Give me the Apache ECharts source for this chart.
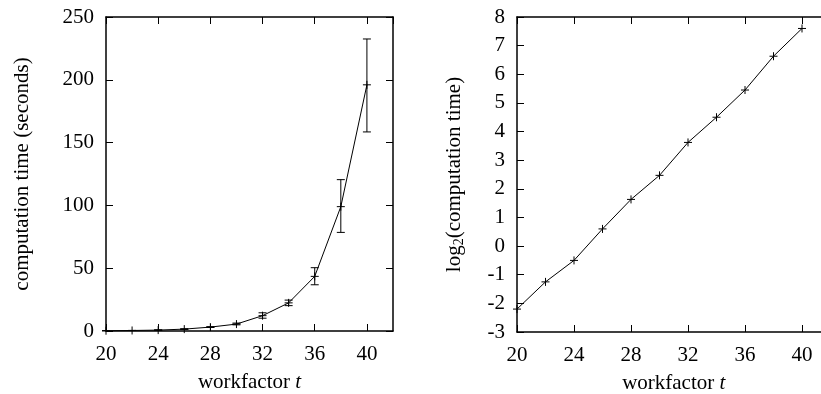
<!DOCTYPE html>
<html>
<head>
<meta charset="utf-8">
<script src="https://cdn.jsdelivr.net/npm/echarts@6/dist/echarts.min.js"></script>
<style>
  html, body { margin: 0; padding: 0; background: #fff; }
  #main { width: 821px; height: 394px; }
</style>
</head>
<body>
<div id="main"></div>
<script>
// workfactor values
const workfactor = [20, 22, 24, 26, 28, 30, 32, 34, 36, 38, 40]
// mean computation time (seconds) and error bar ends
const timeMean = [0.22, 0.42, 0.71, 1.5, 3.1, 5.5, 12.2, 22.4, 43.5, 99, 196]
const timeLow = [0.2, 0.38, 0.62, 1.3, 2.8, 4.9, 10.2, 20.2, 36.8, 78.5, 158.5]
const timeHigh = [0.25, 0.46, 0.8, 1.7, 3.4, 6.3, 14.5, 24.6, 50.4, 120.5, 232.5]
// log2 of computation time
const logTime = [-2.2, -1.25, -0.5, 0.6, 1.63, 2.47, 3.62, 4.5, 5.45, 6.63, 7.6]

const leftTicks = { x: [20, 42, 4], y: [0, 250, 50] }
const rightTicks = { x: [20, 42, 4], y: [-3, 8, 1] }

const font = 'Liberation Serif'
const black = '#000'

const chart = echarts.init(document.getElementById('main'))

const xy = (xs, ys) => xs.map((x, i) => [x, ys[i]])

const axisX = (grid, pos, min, max, interval, showLabel) => ({
  type: 'value', gridIndex: grid, position: pos, min, max, interval,
  axisLine: { show: true, onZero: false, lineStyle: { color: black, width: 1.5 } },
  splitLine: { show: false },
  axisTick: { show: true, inside: true, length: 7, lineStyle: { color: black, width: 1 } },
  axisLabel: {
    show: showLabel, color: black, fontFamily: font, fontSize: 21, margin: 13,
    showMaxLabel: false,
  },
})

const axisY = (grid, pos, min, max, interval, showLabel) => ({
  type: 'value', gridIndex: grid, position: pos, min, max, interval,
  axisLine: { show: true, onZero: false, lineStyle: { color: black, width: 1.5 } },
  splitLine: { show: false },
  axisTick: { show: true, inside: true, length: 7, lineStyle: { color: black, width: 1 } },
  axisLabel: { show: showLabel, color: black, fontFamily: font, fontSize: 21, margin: 12 },
})

const xName = {
  name: '{a|workfactor }{i|t}',
  nameLocation: 'middle',
  nameGap: 41,
  nameTextStyle: {
    rich: {
      a: { fontFamily: font, fontSize: 21, color: black },
      i: { fontFamily: font, fontSize: 21, color: black, fontStyle: 'italic' },
    },
  },
}

const plusAndBars = (withBars) => (params, api) => {
  const x = api.value(0)
  const p = api.coord([x, api.value(1)])
  const s = 4
  const style = { stroke: black, lineWidth: 1 }
  const children = [
    { type: 'line', shape: { x1: p[0] - s, y1: p[1], x2: p[0] + s, y2: p[1] }, style },
    { type: 'line', shape: { x1: p[0], y1: p[1] - s, x2: p[0], y2: p[1] + s }, style },
  ]
  if (withBars) {
    const lo = api.coord([x, api.value(2)])
    const hi = api.coord([x, api.value(3)])
    children.push(
      { type: 'line', shape: { x1: lo[0], y1: lo[1], x2: hi[0], y2: hi[1] }, style },
      { type: 'line', shape: { x1: lo[0] - s, y1: lo[1], x2: lo[0] + s, y2: lo[1] }, style },
      { type: 'line', shape: { x1: hi[0] - s, y1: hi[1], x2: hi[0] + s, y2: hi[1] }, style },
    )
  }
  return { type: 'group', children }
}

chart.setOption({
  backgroundColor: '#fff',
  animation: false,
  grid: [
    { left: 106, top: 17, width: 287, bottom: 63, containLabel: false, outerBoundsMode: 'none' },
    { left: 517, top: 17, width: 313.5, bottom: 62, containLabel: false, outerBoundsMode: 'none' },
  ],
  xAxis: [
    Object.assign(axisX(0, 'bottom', leftTicks.x[0], leftTicks.x[1], leftTicks.x[2], true), xName),
    axisX(0, 'top', leftTicks.x[0], leftTicks.x[1], leftTicks.x[2], false),
    Object.assign(axisX(1, 'bottom', rightTicks.x[0], rightTicks.x[1], rightTicks.x[2], true), xName),
    axisX(1, 'top', rightTicks.x[0], rightTicks.x[1], rightTicks.x[2], false),
  ],
  yAxis: [
    Object.assign(axisY(0, 'left', leftTicks.y[0], leftTicks.y[1], leftTicks.y[2], true), {
      name: 'computation time (seconds)',
      nameLocation: 'middle',
      nameGap: 73,
      nameRotate: 90,
      nameTextStyle: { fontFamily: font, fontSize: 21, color: black },
    }),
    axisY(0, 'right', leftTicks.y[0], leftTicks.y[1], leftTicks.y[2], false),
    Object.assign(axisY(1, 'left', rightTicks.y[0], rightTicks.y[1], rightTicks.y[2], true), {
      name: '{a|log}{s|2}{a|(computation time)}',
      nameLocation: 'middle',
      nameGap: 51,
      nameRotate: 90,
      nameTextStyle: {
        rich: {
          a: { fontFamily: font, fontSize: 21, color: black },
          s: { fontFamily: font, fontSize: 14, color: black, verticalAlign: 'bottom', padding: [9, 0, 0, 0] },
        },
      },
    }),
    axisY(1, 'right', rightTicks.y[0], rightTicks.y[1], rightTicks.y[2], false),
  ],
  series: [
    {
      type: 'line', xAxisIndex: 0, yAxisIndex: 0,
      data: xy(workfactor, timeMean),
      symbol: 'none', lineStyle: { color: black, width: 1 },
    },
    {
      type: 'custom', xAxisIndex: 0, yAxisIndex: 0, clip: false,
      renderItem: plusAndBars(true),
      data: workfactor.map((x, i) => [x, timeMean[i], timeLow[i], timeHigh[i]]),
    },
    {
      type: 'line', xAxisIndex: 2, yAxisIndex: 2,
      data: xy(workfactor, logTime),
      symbol: 'none', lineStyle: { color: black, width: 1 },
    },
    {
      type: 'custom', xAxisIndex: 2, yAxisIndex: 2, clip: false,
      renderItem: plusAndBars(false),
      data: xy(workfactor, logTime),
    },
  ],
})
</script>
</body>
</html>
